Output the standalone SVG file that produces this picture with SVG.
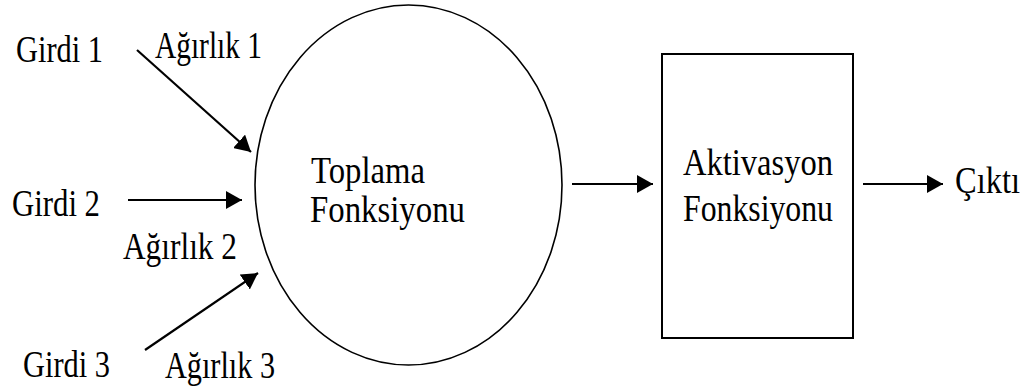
<svg xmlns="http://www.w3.org/2000/svg" width="1032" height="389" viewBox="0 0 1032 389">
<style>
text{font-family:"Liberation Serif","Times New Roman","DejaVu Serif",serif;font-size:38px;fill:#000}
.shape{fill:none;stroke:#000}
.conn line{stroke:#000;stroke-width:2.2;marker-end:url(#ah)}
</style>
<defs>
<marker id="ah" markerUnits="userSpaceOnUse" markerWidth="17" markerHeight="18" viewBox="0 0 17 18" refX="16" refY="9" orient="auto">
<path d="M0,0 L16,9 L0,18 z" fill="#000"/>
</marker>
</defs>
<rect width="1032" height="389" fill="#fff"/>
<g id="girdi1"><text x="16" y="62" textLength="87" lengthAdjust="spacingAndGlyphs">Girdi 1</text></g>
<g id="agirlik1"><text x="155" y="58" textLength="107" lengthAdjust="spacingAndGlyphs">Ağırlık 1</text></g>
<g id="girdi2"><text x="12" y="216" textLength="88" lengthAdjust="spacingAndGlyphs">Girdi 2</text></g>
<g id="agirlik2"><text x="123" y="259" textLength="114" lengthAdjust="spacingAndGlyphs">Ağırlık 2</text></g>
<g id="girdi3"><text x="23" y="377" textLength="87" lengthAdjust="spacingAndGlyphs">Girdi 3</text></g>
<g id="agirlik3"><text x="165" y="378" textLength="110" lengthAdjust="spacingAndGlyphs">Ağırlık 3</text></g>
<g id="toplama">
<ellipse class="shape" cx="408.5" cy="185" rx="153.5" ry="180" stroke-width="1.6"/>
<text x="311" y="183" textLength="114" lengthAdjust="spacingAndGlyphs">Toplama</text>
<text x="310" y="222" textLength="155" lengthAdjust="spacingAndGlyphs">Fonksiyonu</text>
</g>
<g id="aktivasyon">
<rect class="shape" x="662" y="54" width="191" height="284" stroke-width="2"/>
<text x="683" y="175" textLength="150" lengthAdjust="spacingAndGlyphs">Aktivasyon</text>
<text x="683" y="221" textLength="150" lengthAdjust="spacingAndGlyphs">Fonksiyonu</text>
</g>
<g id="cikti"><text x="955" y="193" textLength="65" lengthAdjust="spacingAndGlyphs">Çıktı</text></g>
<g class="conn" id="connectors">
<line x1="137" y1="50" x2="251" y2="152"/>
<line x1="128" y1="200" x2="242" y2="200"/>
<line x1="145" y1="350" x2="258" y2="273"/>
<line x1="572" y1="184" x2="653" y2="184"/>
<line x1="863" y1="184" x2="943" y2="184"/>
</g>
</svg>
